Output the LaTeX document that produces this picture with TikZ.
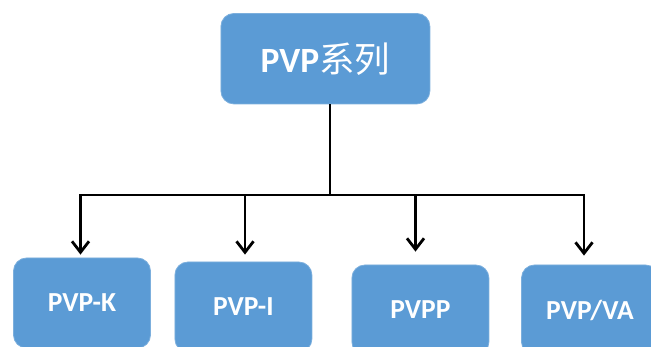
\documentclass[tikz,border=0pt]{standalone}
\usepackage{fontspec}
\setmainfont{Carlito}
\newfontfamily\cjkfont{Noto Sans CJK SC}
\usetikzlibrary{arrows.meta}
\definecolor{boxblue}{HTML}{5B9BD5}
\tikzset{
  box/.style={fill=boxblue, draw=boxblue!80!white, line width=0.8pt,
    rounded corners=13pt, text=white, inner sep=0pt,
    font=\bfseries\fontsize{27.5}{27.5}\selectfont,
    minimum width=137pt, minimum height=90pt},
  wire/.style={line width=2.8pt, black},
  feed/.style={wire, -{Straight Barb[length=11pt, width=17pt]}}
}
\begin{document}
\begin{tikzpicture}[x=1pt, y=-1pt]
  \path[use as bounding box, clip] (0,0) rectangle (651,347);

  % series header
  \node[box, minimum width=209pt, minimum height=90.5pt,
        font=\fontsize{35.5}{35.5}\selectfont] (top) at (325.4,58.7)
        {\bfseries PVP\cjkfont\mdseries 系列};

  % product boxes
  \node[box] (k)  at (82,303)    {PVP-K};
  \node[box] (i)  at (243.4,307) {PVP-I};
  \node[box] (pp) at (420.4,310) {PVPP};
  \node[box] (va) at (590,310)   {PVP/VA};

  % distribution bus
  \coordinate (hub) at (330,195);
  \coordinate (b1) at (80.5,195);
  \coordinate (b2) at (245,195);
  \coordinate (b3) at (415.5,195);
  \coordinate (b4) at (584,195);

  \draw[wire] (hub |- top.south) -- (hub);
  \draw[wire, line cap=rect] (b1) -- (b4);

  \draw[feed, shorten >=3pt]  (b1) -- (b1 |- k.north);
  \draw[feed, shorten >=7pt]  (b2) -- (b2 |- i.north);
  \draw[feed, shorten >=13pt] (b3) -- (b3 |- pp.north);
  \draw[feed, shorten >=9pt]  (b4) -- (b4 |- va.north);
\end{tikzpicture}
\end{document}
